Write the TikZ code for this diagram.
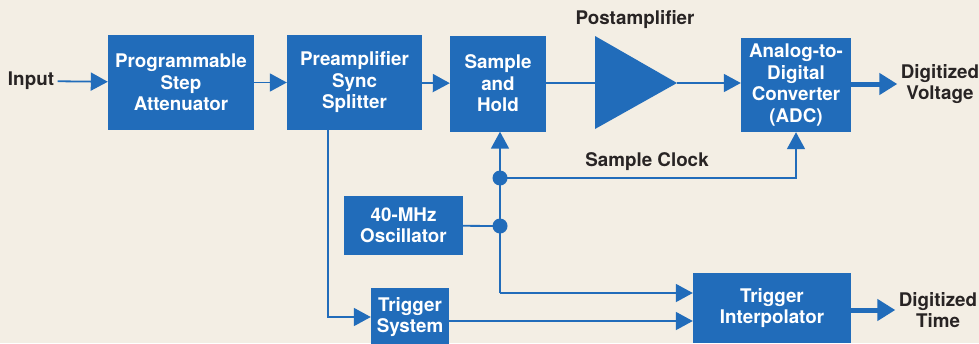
\documentclass[tikz,border=0pt]{standalone}
\usepackage{fontspec}
\setmainfont{TeX Gyre Heros}
\usepackage{xcolor}
\usepackage{tikz}
\usetikzlibrary{calc}
\usetikzlibrary{arrows.meta}

\definecolor{biru}{RGB}{33,108,186}
\definecolor{kertas}{RGB}{243,238,228}
\definecolor{tinta}{RGB}{40,36,36}

\begin{document}
\begin{tikzpicture}[x=1pt,y=-1pt,
    blok/.style={fill=biru, text=white, align=center, inner sep=0pt,
        font=\fontsize{18.8}{21.5}\selectfont\bfseries},
    teks/.style={text=tinta, align=center,
        font=\fontsize{18.8}{21.5}\selectfont\bfseries},
    garis/.style={draw=biru, line width=1.8pt},
    panah/.style={garis, -{Triangle[length=17pt,width=18pt]}},
    tebal/.style={draw=biru, line width=5pt, -{Triangle[length=18pt,width=21pt]}}]
        %KERTAS
        \fill[kertas] (0,0) rectangle (979,343);
        \clip (0,0) rectangle (979,343);

        %KOORDINAT
        \coordinate (split) at (328,317);
        \coordinate (d1) at (500,178);
        \coordinate (d2) at (500,226);
        \coordinate (spine) at (500,293);
        \coordinate (ampin) at (595,83);
        \coordinate (ampout) at (677,83);

        %BLOK
        \node[blok, minimum width=146pt, minimum height=95pt] (att) at (181,82.5) {Programmable\\Step\\Attenuator};
        \node[blok, minimum width=135pt, minimum height=95pt] (pre) at (354.5,82.5) {Preamplifier\\Sync\\Splitter};
        \node[blok, minimum width=96pt, minimum height=96pt] (sh) at (498,83.5) {Sample\\and\\Hold};
        \node[blok, minimum width=110pt, minimum height=94pt] (adc) at (796,85) {Analog-to-\\Digital\\Converter\\(ADC)};
        \node[blok, minimum width=119pt, minimum height=59pt] (osc) at (403.5,225.5) {40-MHz\\Oscillator};
        \node[blok, minimum width=78pt, minimum height=58pt] (trig) at (410,317) {Trigger\\System};
        \node[blok, minimum width=158pt, minimum height=70pt] (interp) at (772,308) {Trigger\\Interpolator};

        %PENGUAT
        \fill[biru] (595,36) -- (ampout) -- (595,129) -- cycle;

        %TEKS
        \node[teks] (in) at (31,81) {Input};
        \node[teks] (post) at (635,20) {Postamplifier};
        \node[teks] (clk) at (647,162) {Sample Clock};
        \node[teks] (dv) at (940,84) {Digitized\\Voltage};
        \node[teks] (dt) at (938,310) {Digitized\\Time};

        %PANAH
        \draw[panah] (in) -- (att);
        \draw[panah] (att) -- (pre);
        \draw[panah] (pre) -- (sh);
        \draw[garis] (sh.east |- ampin) -- (ampin);
        \draw[panah] (ampout) -- (ampout -| adc.west);
        \draw[tebal] (adc.east |- dv) -- (dv);
        \draw[panah] (pre.south -| split) |- (trig);
        \draw[panah] (spine) -- (d1 |- sh.south);
        \draw[panah] (d1) -| (adc.south);
        \draw[garis] (osc) -- (d2);
        \draw[panah] (spine) -- (spine -| interp.west);
        \draw[panah] (trig.east |- 0,321) -- (interp.west |- 0,321);
        \draw[tebal] (interp.east |- dt) -- (dt);

        %TITIK
        \fill[biru] (d1) circle (7.5pt);
        \fill[biru] (d2) circle (7.5pt);
    \end{tikzpicture}
\end{document}
